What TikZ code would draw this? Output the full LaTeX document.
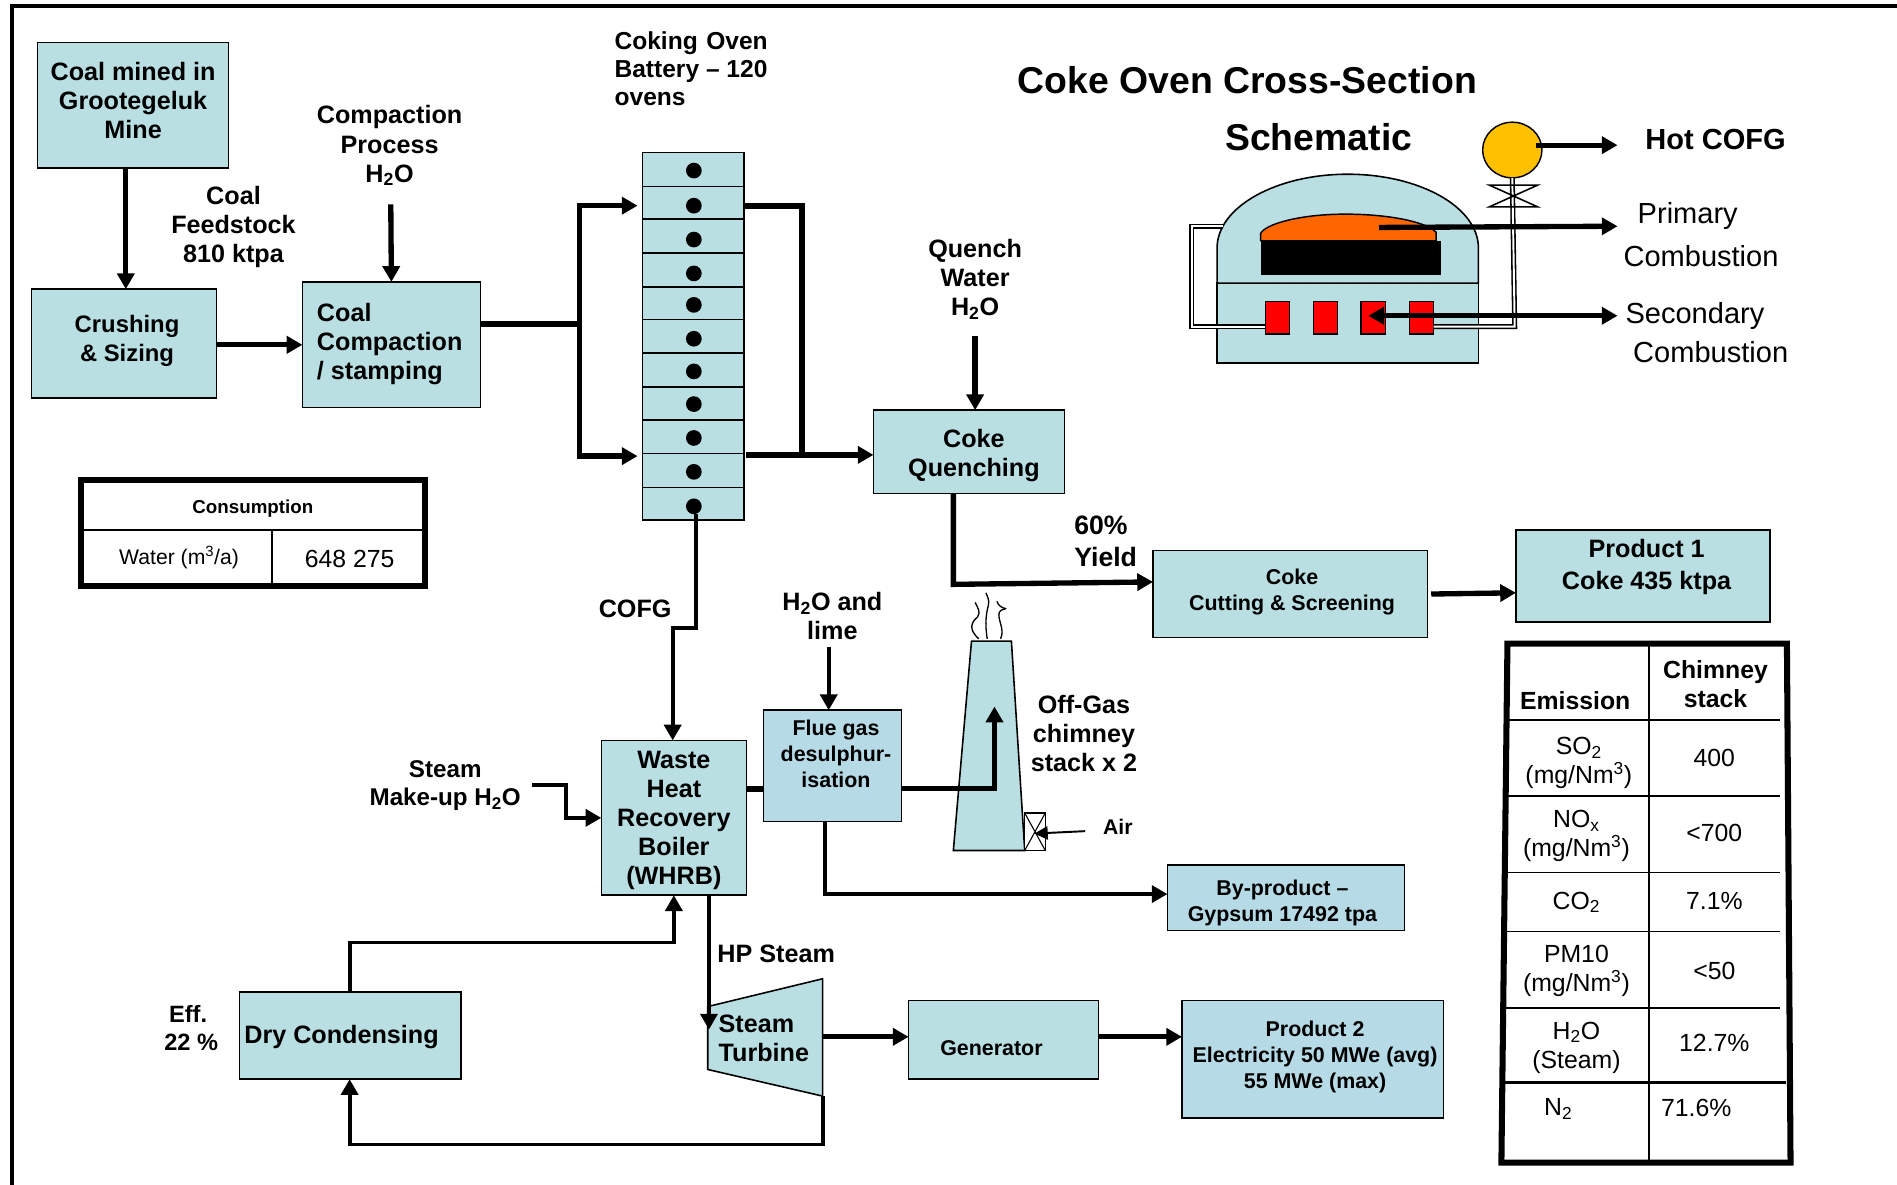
\documentclass[tikz,border=0pt]{standalone}
\usepackage{fontspec}
\setmainfont{Liberation Sans}
\usetikzlibrary{arrows.meta,shapes.geometric}
\definecolor{boxa}{HTML}{B9DFE2}
\definecolor{boxb}{HTML}{B7DBE6}
\definecolor{flame}{HTML}{FF6600}
\definecolor{ballc}{HTML}{FFC000}
\newcommand{\fsz}[2]{\fontsize{#1}{#2}\selectfont}
\newcommand{\mcube}{\textsuperscript{3}}
\tikzset{
  x=1pt,y=-1pt,
  box/.style={draw=black,line width=1.3pt,fill=boxa,inner sep=0pt,outer sep=0pt},
  boxblue/.style={box,fill=boxb},
  txt/.style={inner sep=0pt,outer sep=0pt,align=center,yshift=-1.5pt,font=\fsz{20.8}{24}\bfseries},
  txtl/.style={txt,align=left,anchor=west},
  small/.style={txt,font=\fsz{17.7}{21.5}\bfseries},
  plain/.style={inner sep=0pt,outer sep=0pt,align=center,yshift=-.8pt,font=\fsz{20.5}{24}},
  arr/.style={line width=4.4pt,-{Triangle[length=13pt,width=14pt]}},
  arrthin/.style={line width=3.2pt,-{Triangle[length=13pt,width=14pt]}},
  link/.style={line width=4.8pt},
  pipe/.style={draw=black,line width=1.3pt,double=white,double distance=1.6pt},
  tline/.style={line width=1.3pt},
}
\begin{document}
\begin{tikzpicture}
\useasboundingbox (0,0) rectangle (1568,979);
% page frame
\draw[line width=3pt,line cap=rect] (10,979) -- (10,5) -- (1568,5);

% process boxes
\node[box,minimum width=158pt,minimum height=104pt] (mine) at (110,87) {};
\node[txt] (minet) at (110,81.5) {Coal mined in\\Grootegeluk\\Mine};
\node[box,minimum width=153pt,minimum height=90pt] (crush) at (102.5,284) {};
\node[txt,font=\fsz{19.7}{24}\bfseries] (crusht) at (105,280.5) {Crushing\\\& Sizing};
\node[box,minimum width=147pt,minimum height=104pt] (compact) at (323.5,285) {};
\node[txtl] (compactt) at (262,283) {Coal\\Compaction\\/ stamping};
\node[box,minimum width=158pt,minimum height=69pt] (quench) at (801,373.5) {};
\node[txt] (quencht) at (805,375) {Coke\\Quenching};
\node[box,minimum width=227pt,minimum height=72pt] (cut) at (1066.5,491) {};
\node[small] (cutt) at (1068,487.5) {Coke\\Cutting \& Screening};
\node[box,minimum width=210pt,minimum height=76pt] (prod1) at (1358,476) {};
\node[txt,font=\fsz{20.8}{26}\bfseries] (prod1t) at (1361,467) {Product 1\\Coke 435 ktpa};
\node[box,minimum width=120pt,minimum height=128pt] (whrb) at (557,676) {};
\node[txt] (whrbt) at (557,677) {Waste\\Heat\\Recovery\\Boiler\\(WHRB)};
\node[boxblue,minimum width=114pt,minimum height=92pt] (flue) at (688,633) {};
\node[small] (fluet) at (691,622) {Flue gas\\desulphur-\\isation};
\node[boxblue,minimum width=196pt,minimum height=54pt] (byprod) at (1063,742) {};
\node[small] (byprodt) at (1060,745) {By-product –\\Gypsum 17492 tpa};
\node[box,minimum width=157pt,minimum height=65pt] (gen) at (829.5,859.5) {};
\node[small] (gent) at (819.5,865) {Generator};
\node[boxblue,minimum width=216pt,minimum height=97pt] (prod2) at (1085,875.5) {};
\node[small] (prod2t) at (1087,872.5) {Product 2\\Electricity 50 MWe (avg)\\55 MWe (max)};
\node[box,minimum width=183pt,minimum height=72pt] (dry) at (289.5,856) {};
\node[txtl] (dryt) at (202,856) {Dry Condensing};

% oven battery
\foreach \i/\a/\b/\d in {1/126/154/141,2/154/181/170,3/181/209/198,4/209/237/226,5/237/264/252,6/264/292/280,7/292/320/307,8/320/347/334,9/347/375/362,10/375/403/390,11/403/430/418.5}{
  \pgfmathsetmacro{\cy}{(\a+\b)/2}
  \pgfmathsetmacro{\hh}{\b-\a}
  \node[box,minimum width=84pt,minimum height=\hh pt] (cell\i) at (573,\cy) {};
  \node[circle,fill=black,inner sep=0pt,minimum size=13pt] (dot\i) at (573.5,\d) {};
}

% turbine
\coordinate (tl1) at (585,832);
\coordinate (tl2) at (585,884);
\coordinate (tr1) at (680,809);
\coordinate (tr2) at (680,906);
\draw[box] (tl1) -- (tr1) -- (tr2) -- (tl2) -- cycle;
\node[txtl] (turbt) at (594,857) {Steam\\Turbine};

% chimney
\coordinate (ct1) at (803,530);
\coordinate (ct2) at (836,530);
\coordinate (cb1) at (788,703);
\coordinate (cb2) at (847,703);
\draw[box] (ct1) -- (ct2) -- (cb2) -- (cb1) -- cycle;
\node[draw=black,line width=1.2pt,fill=white,minimum width=17pt,minimum height=31pt,inner sep=0pt,outer sep=0pt] (damper) at (855.5,687.5) {};
\draw[line width=.9pt] (damper.north west) -- (damper.south east) (damper.north east) -- (damper.south west);
\draw[line width=1.1pt] (809,528) .. controls (800,520) and (803,514) .. (808,510) .. controls (811,506) and (808,502) .. (806,498);
\draw[line width=1.1pt] (816,528) .. controls (814,515) and (815,508) .. (817,500) .. controls (818,496) and (816,493) .. (815,490);
\draw[line width=1.1pt] (827,528) .. controls (831,520) and (824,512) .. (826,506) .. controls (828,503) and (831,504) .. (831,503) .. controls (827,502) and (825,500) .. (824,497);

% connectors
\draw[arr] ([xshift=-6pt]mine.south) -- ([xshift=1.5pt]crush.north);
\draw[arr] (crush.east |- 0,285) -- (compact.west |- 0,285);
\coordinate (h2oa) at (323,169);
\draw[arr] (h2oa) -- (compact.north);
\coordinate (split) at (479,268);
\draw[link] (compact.east |- split) -- (split);
\draw[arr,line cap=butt] (479,170) -- ([xshift=-4pt]cell2.west |- 0,170);
\draw[arr,line cap=butt] (479,377) -- ([xshift=-4pt]cell10.west |- 0,377);
\draw[link,line cap=rect] (479,170) -- (479,377);
\draw[link,line cap=rect] (617,170) -- (663,170) -- (663,376);
\draw[arr] (617,376) -- (quench.west |- 0,376);
\coordinate (qw) at (806,278);
\draw[arr] (qw) -- (quench.north -| qw);
\draw[arr] (quench.south -| 788,0) -- (788,483) -- (cut.west |- 0,481);
\draw[arr] ([xshift=3pt]cut.east |- 0,491) -- (prod1.west |- 0,490);
\draw[arrthin] (575,0 |- dot11.south) -- (575,519) -- (556,519) -- (whrb.north -| 556,0);
\coordinate (lime) at (685,535);
\draw[arrthin] (lime) -- (flue.north -| lime);
\coordinate (makeup) at (440,649);
\draw[arrthin] (makeup) -- (468,649) -- (468,676) -- (whrb.west |- 0,676);
\draw[link] (whrb.east |- 0,652) -- (flue.west |- 0,652);
\draw[arr] (flue.east |- 0,652) -- (822,652) -- (822,584);
\draw[arrthin] (flue.south -| 682,0) -- (682,739) -- (byprod.west |- 0,739);
\draw[arrthin] (whrb.south -| 586,0) -- (586,851);
\draw[arrthin] (dry.north -| 289,0) -- (289,779) -- (557,779) -- (whrb.south -| 557,0);
\draw[arrthin] (tr2) -- (680,946) -- (289,946) -- (dry.south -| 289,0);
\draw[arr] (tr1 |- 0,857) -- (gen.west |- 0,857);
\draw[arr] (gen.east |- 0,857) -- (prod2.west |- 0,857);
\coordinate (airin) at (897,687);
\draw[line width=1.6pt,-{Triangle[length=11pt,width=11pt]}] (airin) -- (855,689);

% schematic
\node[box,minimum width=216pt,minimum height=66pt] (base) at (1114,267) {};
\draw[box] (1006,234) -- (1006,205) .. controls (1006,171.3) and (1054.4,144) .. (1114,144) .. controls (1173.6,144) and (1222,171.3) .. (1222,205) -- (1222,234) -- cycle;
\node[draw=none,fill=black,minimum width=149pt,minimum height=28pt,inner sep=0pt] (charge) at (1116.5,213) {};
\draw[draw=black,line width=1.2pt,fill=flame] (1042,199) -- (1042,193) .. controls (1046,185) and (1075,177) .. (1112,177) .. controls (1150,177) and (1180,184) .. (1187,192) -- (1187,199) -- cycle;
\foreach \n/\cx in {1/1056,2/1095.5,3/1135,4/1175}{
  \node[draw=black,line width=1pt,fill=red,minimum width=20pt,minimum height=27pt,inner sep=0pt,outer sep=0pt] (burner\n) at (\cx,262.5) {};
}
\draw[pipe] (1011,187) -- (985,187) -- (985,270) -- (burner1.west |- 0,270);
\node[ellipse,draw=black,line width=1.2pt,fill=ballc,minimum width=49pt,minimum height=46pt,inner sep=0pt,outer sep=0pt] (ball) at (1250,124) {};
\draw[pipe] (ball.south) -- (1252,147 |- 0,270) -- (burner4.east |- 0,270);
\draw[line width=1.3pt] (1231,153) -- (1271,153) -- (1231,171) -- (1271,171) -- cycle;

\coordinate (hotc) at (1337,120);
\coordinate (prim) at (1337,187);
\coordinate (sec) at (1337,261);
\coordinate (primin) at (1140,188);
\coordinate (secin) at (1131,261);
\draw[arr] (1270,0 |- hotc) -- (hotc);
\draw[arr] (primin) -- (prim);
\draw[line width=4.4pt,{Triangle[length=13pt,width=14pt]}-{Triangle[length=13pt,width=14pt]}] (secin) -- (sec);

% labels
\node[txtl,font=\fsz{20.3}{23}\bfseries] (oventxt) at (508,55.5) {Coking\hspace{7pt}Oven\\Battery – 120\\ovens};
\node[txt] (comptxt) at (322,119) {Compaction\\Process\\H\textsubscript{2}O};
\node[txt] (feedtxt) at (193,186) {Coal\\Feedstock\\810 ktpa};
\node[txt] (qwtxt) at (806,229.5) {Quench\\Water\\H\textsubscript{2}O};
\node[txtl,font=\fsz{22}{26}\bfseries] (yieldtxt) at (888,446) {60\%\\Yield};
\node[txt] (cofgtxt) at (525,502) {COFG};
\node[txt] (limetxt) at (688,508) {H\textsubscript{2}O and\\lime};
\node[txt] (offtxt) at (896,604.5) {Off-Gas\\chimney\\stack x 2};
\node[txt,font=\fsz{17.5}{20}\bfseries] (airtxt) at (924,682) {Air};
\node[small,font=\fsz{20}{23}\bfseries] (makeuptxt) at (368,648) {Steam\\Make-up H\textsubscript{2}O};
\node[txtl] (hptxt) at (593,787) {HP Steam};
\node[small,font=\fsz{19.5}{23}\bfseries] (efftxt) at (158,848.5) {Eff.\kern5pt\\22 \%};
\node[txt,font=\fsz{30.9}{36}\bfseries] (title1) at (1031,65) {Coke Oven Cross-Section};
\node[txt,font=\fsz{30.9}{36}\bfseries,yshift=1.5pt] (title2) at (1090,113) {Schematic};
\node[txt,font=\fsz{24}{28}\bfseries,yshift=1.5pt] (hottxt) at (1418,115) {Hot COFG};
\node[plain,font=\fsz{24}{28}] (p1) at (1395,178) {Primary};
\node[plain,font=\fsz{24}{28},yshift=.8pt] (p2) at (1406,212) {Combustion};
\node[plain,font=\fsz{24}{28}] (s1) at (1401,260) {Secondary};
\node[plain,font=\fsz{24}{28},yshift=.8pt] (s2) at (1414,291) {Combustion};

% consumption table
\draw[line width=5pt] (67,396.5) rectangle (351,484);
\draw[tline] (67,438) -- (351,438) (225,438) -- (225,484);
\node[small,font=\fsz{15.5}{18}\bfseries] (constxt) at (209,419) {Consumption};
\node[plain,font=\fsz{17.5}{20}] (watertxt) at (148,460) {Water (m\mcube/a)};
\node[plain,font=\fsz{20.5}{24}] (valtxt) at (289,461.5) {648 275};

% emission table
\draw[line width=5pt] (1246,532) -- (1477,532) -- (1480,961) -- (1241,961) -- cycle;
\draw[tline] (1363,534) -- (1363,959);
\draw[tline] (1246,595) -- (1471,595) (1245,658) -- (1471,658) (1244,721) -- (1471,721) (1244,770) -- (1471,770) (1243,833) -- (1471,833);
\draw[line width=2.6pt] (1243,895) -- (1476,895);
\node[txt,font=\fsz{20.5}{24}\bfseries] (emtxt) at (1302,578) {Emission};
\node[txt,font=\fsz{20.5}{24}\bfseries] (chtxt) at (1418,564) {Chimney\\stack};
\node[plain] (e1) at (1305,630) {SO\textsubscript{2}\\(mg/Nm\mcube)};
\node[plain] (v1) at (1417,626) {400};
\node[plain] (e2) at (1303,690) {NO\textsubscript{x}\\(mg/Nm\mcube)};
\node[plain] (v2) at (1417,688) {<700};
\node[plain] (e3) at (1303,745) {CO\textsubscript{2}};
\node[plain] (v3) at (1417,744) {7.1\%};
\node[plain] (e4) at (1303,802) {PM10\\(mg/Nm\mcube)};
\node[plain] (v4) at (1417,802) {<50};
\node[plain] (e5) at (1303,865) {H\textsubscript{2}O\\(Steam)};
\node[plain] (v5) at (1417,861) {12.7\%};
\node[plain] (e6) at (1288,916) {N\textsubscript{2}};
\node[plain] (v6) at (1402,915) {71.6\%};
\end{tikzpicture}
\end{document}
